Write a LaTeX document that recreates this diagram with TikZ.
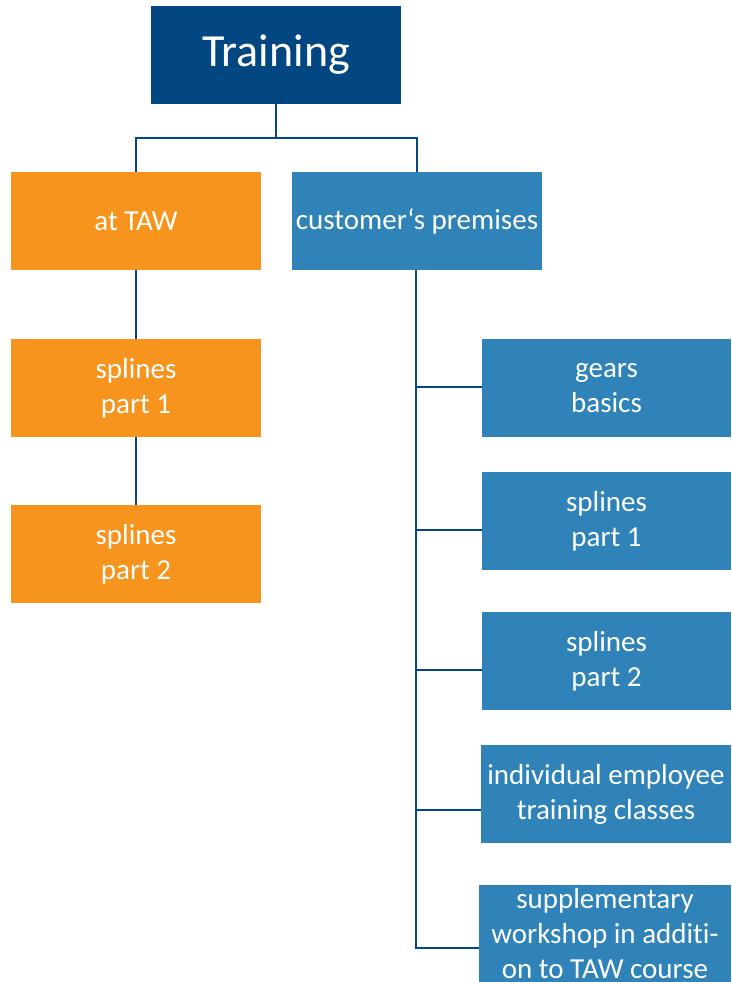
\documentclass[tikz,border=0pt]{standalone}
\usepackage{fontspec}
\setmainfont[Ligatures=CommonOff]{Carlito}
\definecolor{darkblue}{RGB}{2,70,130}
\definecolor{taworange}{RGB}{246,148,30}
\definecolor{lightblue}{RGB}{47,131,184}
\tikzset{
  box/.style={rectangle, inner sep=0pt, minimum width=250pt, minimum height=98pt,
    text=white, align=center, font=\fontsize{29}{35}\selectfont},
  orangebox/.style={box, fill=taworange},
  bluebox/.style={box, fill=lightblue},
  conn/.style={draw=darkblue, line width=2.6pt}
}
\begin{document}
\begin{tikzpicture}[x=1pt,y=-1pt]
\useasboundingbox (0,0) rectangle (731,982);
\node[box, fill=darkblue, font=\fontsize{46}{52}\selectfont] (train) at (276,55) {Training};
\node[orangebox] (taw) at (136,221) {at TAW};
\node[bluebox] (cust) at (417,221) {customer‘s premises};
\node[orangebox] (ls1) at (136,388) {splines\\part 1};
\node[orangebox] (ls2) at (136,554) {splines\\part 2};
\node[bluebox, minimum width=249pt] (gears) at (606.5,388) {gears\\basics};
\node[bluebox, minimum width=249pt] (rs1) at (606.5,521) {splines\\part 1};
\node[bluebox, minimum width=249pt] (rs2) at (606.5,661) {splines\\part 2};
\node[bluebox] (indiv) at (606,794) {individual employee\\training classes};
\node[bluebox, minimum width=252pt, minimum height=97pt,
  label={[text=white, align=center, font=\fontsize{29}{35}\selectfont]center:{supplementary\\workshop in additi-\\on to TAW course}}] (supp) at (605,933.5) {};
% connectors
\coordinate (split) at (276,138);
\draw[conn] (train.south) -- (split);
\draw[conn] (taw.north) -- (taw.north |- split) -- (cust.north |- split) -- (cust.north);
\draw[conn] (taw.south) -- (ls1.north);
\draw[conn] (ls1.south) -- (ls2.north);
\coordinate (b1) at (416,387);
\coordinate (b2) at (416,530);
\coordinate (b3) at (416,670);
\coordinate (b4) at (416,810);
\coordinate (b5) at (416,948);
\draw[conn] (416,270) -- (b5);
\draw[conn] (b1) -- (gears.west |- b1);
\draw[conn] (b2) -- (rs1.west |- b2);
\draw[conn] (b3) -- (rs2.west |- b3);
\draw[conn] (b4) -- (indiv.west |- b4);
\draw[conn] ([xshift=-1.3pt]b5) -- (supp.west |- b5);
\end{tikzpicture}
\end{document}
